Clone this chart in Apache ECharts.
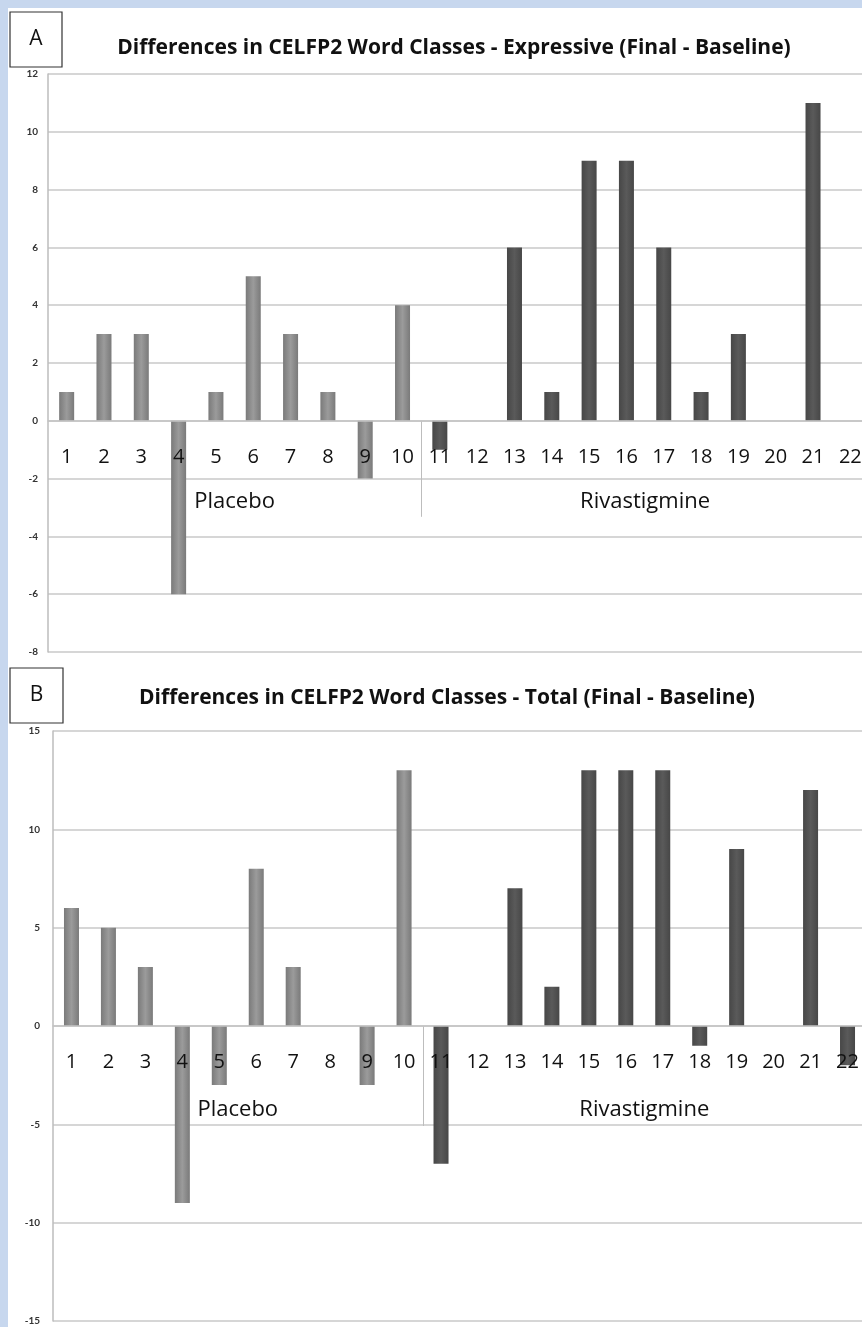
<!DOCTYPE html>
<html>
<head>
<meta charset="utf-8">
<script src="https://cdn.jsdelivr.net/npm/echarts@6/dist/echarts.min.js"></script>
<style>
  html, body { margin: 0; padding: 0; background: #fff; }
  #c { width: 862px; height: 1327px; }
</style>
</head>
<body>
<div id="c"></div>
<script>
// ---- data ----
const categories = ['1','2','3','4','5','6','7','8','9','10','11','12','13','14','15','16','17','18','19','20','21','22'];
const groupNames = ['Placebo', 'Rivastigmine'];
const groupFirstIndex = [0, 10];   // first category index in each group
const groupLastIndex = [9, 21];
const expressive = [1, 3, 3, -6, 1, 5, 3, 1, -2, 4, -1, 0, 6, 1, 9, 9, 6, 1, 3, 0, 11, 0];
const total = [6, 5, 3, -9, -3, 8, 3, 0, -3, 13, -7, 0, 7, 2, 13, 13, 13, -1, 9, 0, 12, -2];
const panelLetters = ['A', 'B'];
const titles = [
  'Differences in CELFP2 Word Classes - Expressive (Final - Baseline)',
  'Differences in CELFP2 Word Classes - Total (Final - Baseline)'
];
const yMinA = -8, yMaxA = 12, yStepA = 2;
const yMinB = -15, yMaxB = 15, yStepB = 5;

// ---- style ----
const FONT = '"Open Sans", Lato, sans-serif';
const placeboColor = new echarts.graphic.LinearGradient(0, 0, 1, 0, [
  { offset: 0, color: '#7a7a7a' }, { offset: 0.5, color: '#9b9b9b' }, { offset: 1, color: '#7a7a7a' }
]);
const rivaColor = new echarts.graphic.LinearGradient(0, 0, 1, 0, [
  { offset: 0, color: '#474747' }, { offset: 0.5, color: '#5a5a5a' }, { offset: 1, color: '#474747' }
]);
function barColor(p) { return p.dataIndex < groupFirstIndex[1] ? placeboColor : rivaColor; }

function xAxisDef(gi, offset) {
  return {
    type: 'category', gridIndex: gi, data: categories, position: 'bottom', offset: offset, z: 5,
    axisLine: { show: true, onZero: false, lineStyle: { color: '#c4c4c4', width: 1.5 } },
    axisTick: { show: false },
    axisLabel: { fontSize: 20, color: '#111', fontFamily: FONT, margin: 26, interval: 0, hideOverlap: false },
    splitLine: { show: false }
  };
}
function yAxisDef(gi, min, max, step, margin) {
  return {
    type: 'value', gridIndex: gi, min: min, max: max, interval: step,
    axisLine: { show: true, lineStyle: { color: '#bdbdbd', width: 1.5 } },
    axisTick: { show: false },
    axisLabel: { fontSize: 10, fontWeight: 'bold', color: '#333', fontFamily: 'Lato, sans-serif', margin: margin },
    splitLine: { show: true, lineStyle: { color: '#c8c8c8', width: 1.5 } }
  };
}

const grids = [
  { left: 48, top: 74, width: 821, height: 578, outerBoundsMode: 'none', containLabel: false },
  { left: 53, top: 731, width: 813, height: 590, outerBoundsMode: 'none', containLabel: false }
];
const chart = echarts.init(document.getElementById('c'));
const baseOption = {
  animation: false,
  backgroundColor: '#ffffff',
  grid: grids,
  xAxis: [xAxisDef(0, 0), xAxisDef(1, 0)],
  yAxis: [yAxisDef(0, yMinA, yMaxA, yStepA, 10), yAxisDef(1, yMinB, yMaxB, yStepB, 13)],
  series: [
    { type: 'bar', xAxisIndex: 0, yAxisIndex: 0, data: expressive, barWidth: 15,
      itemStyle: { color: barColor } },
    { type: 'bar', xAxisIndex: 1, yAxisIndex: 1, data: total, barWidth: 15,
      itemStyle: { color: barColor } }
  ]
};
chart.setOption(baseOption);

// place category axes on the zero line of each value axis
function gridBottomY(gi) {
  const yAxisMin = gi === 0 ? yMinA : yMinB;
  return chart.convertToPixel({ gridIndex: gi }, [0, yAxisMin])[1];
}
const zeroYs = [0, 1].map(gi => chart.convertToPixel({ gridIndex: gi }, [0, 0])[1]);
chart.setOption({
  xAxis: [0, 1].map(gi => ({ offset: zeroYs[gi] - gridBottomY(gi) }))
});

// ---- annotations positioned through the chart's own scales ----
const g = [];
g.push({ type: 'rect', z: 100, shape: { x: 0, y: 0, width: 862, height: 8 }, style: { fill: '#c7d7ee' } });
g.push({ type: 'rect', z: 100, shape: { x: 0, y: 0, width: 8, height: 1327 }, style: { fill: '#c7d7ee' } });

const boxes = [{ x: 10, y: 12, w: 52, h: 55 }, { x: 10, y: 668, w: 53, h: 55 }];
const titleY = [48, 698];
const titleX = [454, 447];
const labelOffsets = [{ grp: 81, div: 96 }, { grp: 84, div: 100 }];

for (let gi = 0; gi < 2; gi++) {
  const b = boxes[gi];
  g.push({ type: 'rect', z: 90, shape: { x: b.x, y: b.y, width: b.w, height: b.h },
    style: { fill: '#fff', stroke: '#333', lineWidth: 1.2 } });
  g.push({ type: 'text', z: 91, style: { text: panelLetters[gi], x: b.x + b.w / 2, y: b.y + b.h / 2,
    align: 'center', verticalAlign: 'middle', fontSize: 21, fontFamily: FONT, fill: '#111' } });
  g.push({ type: 'text', z: 91, style: { text: titles[gi], x: titleX[gi], y: titleY[gi],
    align: 'center', verticalAlign: 'middle', fontSize: 21, fontWeight: 'bold', fontFamily: FONT, fill: '#111' } });

  const zeroY = zeroYs[gi];
  for (let k = 0; k < groupNames.length; k++) {
    const xa = chart.convertToPixel({ gridIndex: gi }, [groupFirstIndex[k], 0])[0];
    const xb = chart.convertToPixel({ gridIndex: gi }, [groupLastIndex[k], 0])[0];
    g.push({ type: 'text', z: 50, style: { text: groupNames[k], x: (xa + xb) / 2, y: zeroY + labelOffsets[gi].grp,
      align: 'center', verticalAlign: 'middle', fontSize: 22, fontFamily: FONT, fill: '#111' } });
  }
  const xl = chart.convertToPixel({ gridIndex: gi }, [groupLastIndex[0], 0])[0];
  const xr = chart.convertToPixel({ gridIndex: gi }, [groupFirstIndex[1], 0])[0];
  const xd = Math.round((xl + xr) / 2) + 0.5;
  g.push({ type: 'line', z: 5, shape: { x1: xd, y1: zeroY, x2: xd, y2: zeroY + labelOffsets[gi].div },
    style: { stroke: '#bdbdbd', lineWidth: 1 } });
}
chart.setOption({ graphic: g });
</script>
</body>
</html>
